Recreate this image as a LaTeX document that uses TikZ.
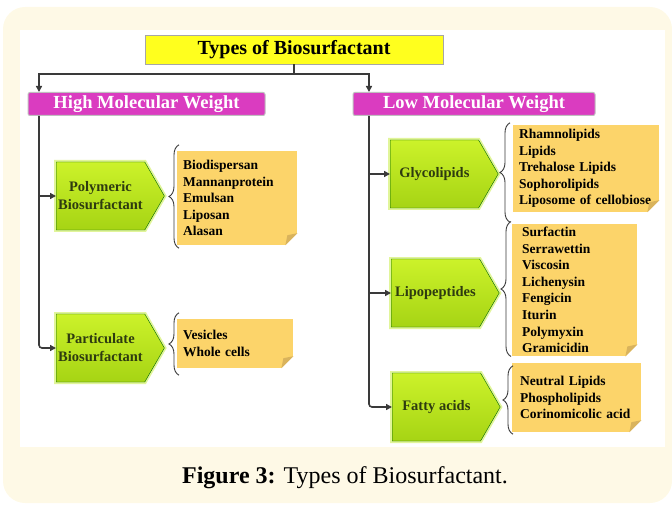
\documentclass[tikz,border=0pt]{standalone}
\usepackage{fontspec}
\setmainfont{Liberation Serif}
\usetikzlibrary{arrows.meta,positioning,shapes.symbols,decorations.pathreplacing,calc}
\definecolor{cream}{HTML}{FEF9E6}
\definecolor{titleyellow}{HTML}{FFFF1E}
\definecolor{magentabox}{HTML}{DA3CC0}
\definecolor{limegreen}{HTML}{BDE81E}
\definecolor{limetop}{HTML}{CCF22A}
\definecolor{limebottom}{HTML}{A6D414}
\definecolor{olivetext}{HTML}{2E3B10}
\definecolor{noteyellow}{HTML}{FCD46A}
\definecolor{notefold}{HTML}{D9B35C}
\definecolor{linegray}{HTML}{3A3A3A}
\tikzset{
  titlebox/.style={rectangle,draw=black!35,fill=titleyellow,minimum width=298pt,minimum height=29pt,inner ysep=1pt,font=\fontsize{20}{22}\selectfont\bfseries},
  weightbox/.style={rectangle,rounded corners=2pt,draw=black!25,line width=1pt,fill=magentabox,text=white,minimum height=23pt,inner ysep=0pt,font=\fontsize{18.5}{20}\selectfont\bfseries},
  classbox/.style={signal,signal to=east,signal pointer angle=120,draw=green!40!black,top color=limetop,bottom color=limebottom,
    preaction={draw=limegreen!45,line width=4pt},text=olivetext,minimum width=108pt,minimum height=68pt,align=center,inner sep=2pt,font=\fontsize{14.5}{18}\selectfont\bfseries},
  listnote/.style={rectangle,fill=noteyellow,align=left,inner xsep=6pt,text width=#1,font=\fontsize{13.5}{16.6}\selectfont\bfseries},
  arrow/.style={-{Triangle[length=6pt,width=6pt]},line width=1.6pt,linegray},
  listbrace/.style={decorate,decoration={brace,amplitude=10pt},line width=0.9pt,linegray}
}
\newcommand{\FoldCorner}[1]{%
  \fill[white] (#1.south east) -- ++(-12,0) -- ++(12,-12) -- cycle;
  \fill[notefold] ($(#1.south east)+(-12,0)$) -- ($(#1.south east)+(0,-12)$) -- ($(#1.south east)+(-10,-10)$) -- cycle;
}
\begin{document}
\begin{tikzpicture}[x=1pt,y=-1pt]
  \useasboundingbox (0,0) rectangle (672,505);
  \fill[cream,rounded corners=22pt] (3,7) rectangle (672,503);
  \fill[white] (20,30) rectangle (665,447);

  % headings
  \node[titlebox] (title) at (294,49.5) {Types of Biosurfactant};
  \node[weightbox,minimum width=237pt] (hmw) at (146.5,104) {High Molecular Weight};
  \node[weightbox,minimum width=242pt] (lmw) at (474,104) {Low Molecular Weight};
  \coordinate (lspine) at (39,74);
  \coordinate (rspine) at (369,74);

  % high molecular weight side
  \node[classbox,anchor=west] (polymeric) at (56,196) {Polymeric\\Biosurfactant};
  \node[classbox,anchor=west] (particulate) at (56,348) {Particulate\\Biosurfactant};
  \node[listnote=108pt,minimum height=94pt,anchor=west] (polynote) at (177,198)
    {Biodispersan\\Mannanprotein\\Emulsan\\Liposan\\Alasan};
  \node[listnote=104pt,minimum height=49pt,anchor=west] (partnote) at (177,343.5)
    {Vesicles\\Whole cells};

  % low molecular weight side
  \node[classbox,anchor=west] (glyco) at (390,174) {Glycolipids};
  \node[classbox,anchor=west] (lipo) at (391,293) {Lipopeptides};
  \node[classbox,anchor=west] (fatty) at (392,407) {Fatty acids};
  \node[listnote=134pt,minimum height=87pt,anchor=west] (glyconote) at (513,168.5)
    {Rhamnolipids\\Lipids\\Trehalose Lipids\\Sophorolipids\\Liposome of cellobiose};
  \node[listnote=105pt,inner xsep=10pt,minimum height=130pt,anchor=west] (lipnote) at (512,290)
    {Surfactin\\Serrawettin\\Viscosin\\Lichenysin\\Fengicin\\Iturin\\Polymyxin\\Gramicidin};
  \node[listnote=113pt,inner xsep=8pt,minimum height=69pt,anchor=west] (fattynote) at (512,397.5)
    {Neutral Lipids\\Phospholipids\\Corinomicolic acid};

  \FoldCorner{polynote}
  \FoldCorner{partnote}
  \FoldCorner{glyconote}
  \FoldCorner{lipnote}
  \FoldCorner{fattynote}

  % braces
  \draw[listbrace] ([xshift=2pt,yshift=-3pt]polynote.south west) -- ([xshift=2pt,yshift=6pt]polynote.north west);
  \draw[listbrace] ([xshift=2pt,yshift=-7pt]partnote.south west) -- ([xshift=2pt,yshift=6pt]partnote.north west);
  \draw[listbrace] ([xshift=-3pt,yshift=-10pt]glyconote.south west) -- ([xshift=-3pt,yshift=2pt]glyconote.north west);
  \draw[listbrace] ([xshift=-1pt]lipnote.south west) -- ([xshift=-1pt,yshift=2pt]lipnote.north west);
  \draw[listbrace] ([xshift=1pt,yshift=-2pt]fattynote.south west) -- ([xshift=1pt,yshift=-3pt]fattynote.north west);

  % connectors
  \draw[arrow] (title.south) -- ++(0,10) -| (hmw.north -| lspine);
  \draw[arrow] (title.south) -- ++(0,10) -| (lmw.north -| rspine);
  \draw[arrow] (polymeric.west -| lspine) -- (polymeric.west);
  \draw[arrow,rounded corners=3pt] (hmw.south -| lspine) |- (particulate.west);
  \draw[arrow] (glyco.west -| rspine) -- (glyco.west);
  \draw[arrow] (lipo.west -| rspine) -- (lipo.west);
  \draw[arrow,rounded corners=3pt] (lmw.south -| rspine) |- (fatty.west);

  \node (caption) at (345,478) {\fontsize{24}{26}\selectfont\textbf{Figure 3:} Types of Biosurfactant.};
\end{tikzpicture}
\end{document}
